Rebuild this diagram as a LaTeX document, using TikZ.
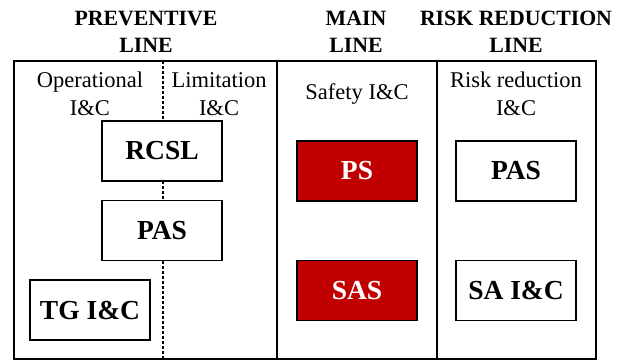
\documentclass[tikz,border=0pt]{standalone}
\usepackage{fontspec}
\setmainfont{Liberation Serif}
\usepackage{tikz}
\usetikzlibrary{positioning}

\begin{document}
\begin{tikzpicture}[x=1pt,y=-1pt,
  header/.style={align=center,font=\fontsize{21.8}{27}\selectfont\bfseries},
  label/.style={align=center,font=\fontsize{22.5}{28}\selectfont},
  system/.style={draw,line width=1.6pt,fill=white,minimum width=120pt,minimum height=60pt,inner sep=0pt,font=\fontsize{27.5}{30}\selectfont\bfseries},
  safety/.style={system,fill={rgb,255:red,192;green,0;blue,0},text=white},
  frame/.style={line width=1.6pt},
  split/.style={line width=1.6pt,dash pattern=on 3pt off 2pt}]
\useasboundingbox (0,0) rectangle (626,360);

% headers
\node(prev)[header] at (146,31.5) {PREVENTIVE\\LINE};
\node(main)[header] at (356,31.5) {MAIN\\LINE};
\node(risk)[header] at (516,31.5) {RISK REDUCTION\\LINE};

% frame and columns
\coordinate(tl) at (14,61);
\coordinate(br) at (596,359);
\draw [frame] (tl) rectangle (br);
\draw [frame] (277,61) -- (277,359);
\draw [frame] (437,61) -- (437,359);
\draw [split] (163,61) -- (163,359);

% column labels
\node(oper)[label] at (90,94) {Operational\\I\&C};
\node(limit)[label] at (219,94) {Limitation\\I\&C};
\node(safe)[label] at (357,94) {Safety I\&C};
\node(riskic)[label] at (516,94) {Risk reduction\\I\&C};

% systems
\node(rcsl)[system] at (162,151) {RCSL};
\node(pas1)[system] at (162,230.5) {PAS};
\node(tg)[system] at (90,310) {TG I\&C};
\node(ps)[safety] at (357,171) {PS};
\node(sas)[safety] at (357,290.5) {SAS};
\node(pas2)[system] at (516,171) {PAS};
\node(sa)[system] at (516,290.5) {SA I\&C};
\end{tikzpicture}
\end{document}
